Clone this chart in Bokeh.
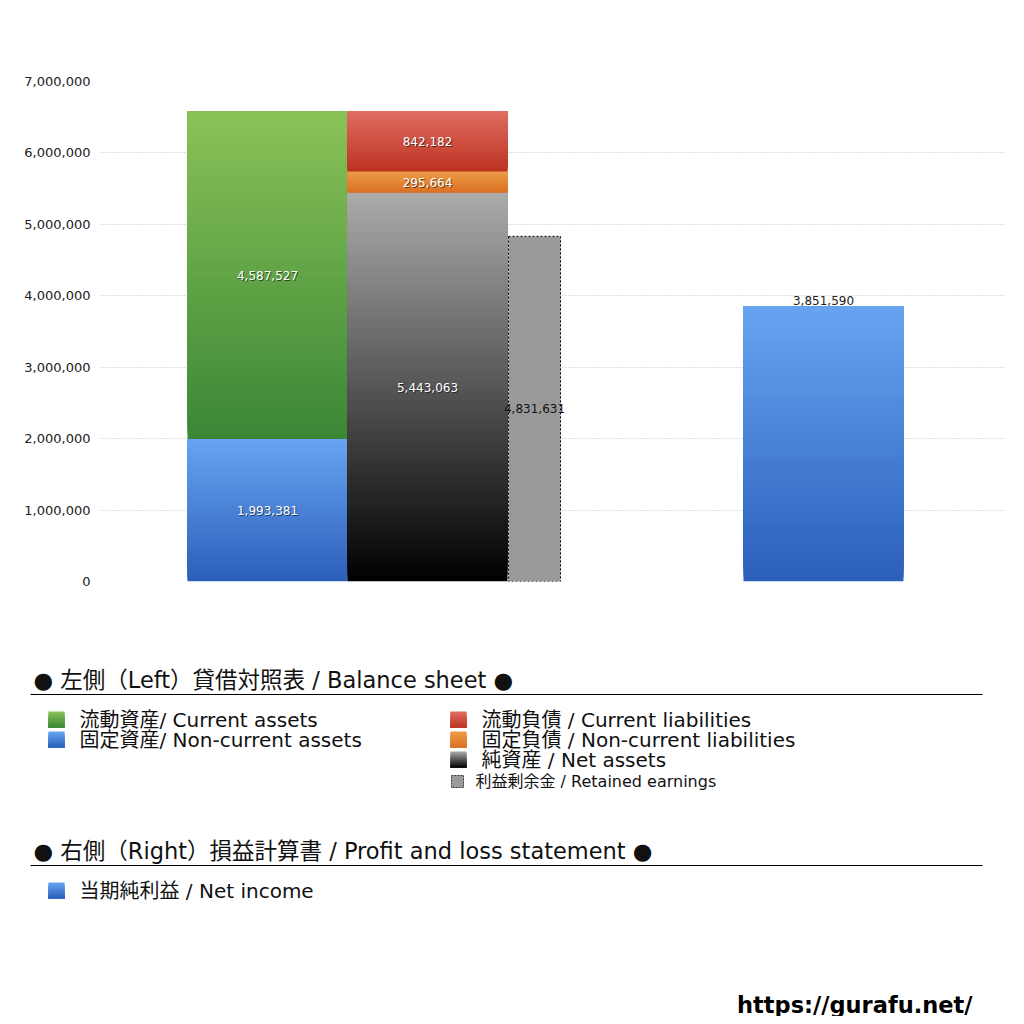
from bokeh.plotting import figure
from bokeh.models import Range1d, SingleIntervalTicker, NumeralTickFormatter
from bokeh.embed import file_html
from bokeh.resources import INLINE
from bokeh.core.properties import value

FONT = "DejaVu Sans, Noto Sans CJK JP"

# ---------------- data ----------------
asset_names = ["固定資産", "流動資産"]              # stacked bottom -> top
asset_en = ["Non-current assets", "Current assets"]
asset_values = [1993381, 4587527]

liab_names = ["純資産", "固定負債", "流動負債"]      # stacked bottom -> top
liab_en = ["Net assets", "Non-current liabilities", "Current liabilities"]
liab_values = [5443063, 295664, 842182]

retained_names = ["利益剰余金"]
retained_en = ["Retained earnings"]
retained_values = [4831631]

pl_names = ["当期純利益"]
pl_en = ["Net income"]
pl_values = [3851590]

y_max = 7000000
y_step = 1000000

# ---------------- styles ----------------
asset_colors = [("#67a4f1", "#2c5fba"), ("#8ac257", "#3a8736")]
liab_colors = [("#ababab", "#000000"), ("#ec9c49", "#db7024"), ("#df6d62", "#bd3321")]
retained_color = "#999999"
pl_colors = [("#67a4f1", "#2c5fbb")]


def hex2rgb(h):
    h = h.lstrip("#")
    return tuple(int(h[i:i + 2], 16) for i in (0, 2, 4))


def mix(c_bottom, c_top, t):
    a, b = hex2rgb(c_bottom), hex2rgb(c_top)
    return "#%02x%02x%02x" % tuple(round(a[k] + (b[k] - a[k]) * t) for k in range(3))


def gradient_quads(p, left, right, bottom, top, c_top, c_bottom, n=60):
    """vertical gradient: layered rectangles, later ones cover the upper part"""
    lefts, rights, bottoms, tops, colors = [], [], [], [], []
    for i in range(n):
        lefts.append(left)
        rights.append(right)
        bottoms.append(bottom + (top - bottom) * i / n)
        tops.append(top)
        colors.append(mix(c_bottom, c_top, (i + 0.5) / n))
    p.quad(left=lefts, right=rights, bottom=bottoms, top=tops,
           fill_color=colors, line_color=None)


# ---------------- chart ----------------
W = 1016
CH = 610                               # chart canvas height
FL, FT, FR, FB = 100, 81, 1005, 581    # frame edges on the page
p = figure(width=W, height=CH, output_backend="svg", toolbar_location=None,
           x_range=Range1d(0, FR - FL), y_range=Range1d(0, y_max),
           min_border_left=FL, min_border_right=W - FR, min_border_top=FT,
           min_border_bottom=CH - FB)
p.outline_line_color = None
p.xaxis.visible = False
p.xgrid.visible = False
p.ygrid.grid_line_color = "#c0c0c0"
p.ygrid.grid_line_dash = "1 2"
p.ygrid.grid_line_width = 1
yax = p.yaxis[0]
yax.ticker = SingleIntervalTicker(interval=y_step)
yax.formatter = NumeralTickFormatter(format="0,0")
yax.axis_line_color = None
yax.major_tick_line_color = None
yax.minor_tick_line_color = None
yax.major_label_text_font = FONT
yax.major_label_text_font_size = "13px"
yax.major_label_text_color = "#222222"
yax.major_label_standoff = 4

# layout (x positions in frame pixels)
ASSET_L, ASSET_R = 87, 247
LIAB_L, LIAB_R = 247, 407
RET_L, RET_R = 408, 460
PL_L, PL_R = 643, 803


def stacked(p, left, right, values, colors):
    base = 0
    xs, ys, labels = [], [], []
    for v, (ct, cb) in zip(values, colors):
        gradient_quads(p, left, right, base, base + v, ct, cb)
        xs.append((left + right) / 2)
        ys.append(base + v / 2)
        labels.append(f"{v:,}")
        base += v
    return xs, ys, labels


lab_x, lab_y, lab_t = [], [], []
for args in ((ASSET_L, ASSET_R, asset_values, asset_colors),
             (LIAB_L, LIAB_R, liab_values, liab_colors)):
    xs, ys, ts = stacked(p, *args)
    lab_x += xs
    lab_y += ys
    lab_t += ts

# white labels with a dark shadow
p.text(x=lab_x, y=lab_y, text=lab_t, text_color="#000000", text_alpha=0.55,
       x_offset=1, y_offset=1, text_align="center", text_baseline="middle",
       text_font=value(FONT), text_font_size="12px")
p.text(x=lab_x, y=lab_y, text=lab_t, text_color="#ffffff",
       text_align="center", text_baseline="middle",
       text_font=value(FONT), text_font_size="12px")

# retained earnings (dashed outline)
p.quad(left=[RET_L], right=[RET_R], bottom=[0], top=retained_values,
       fill_color=retained_color, line_color="#000000", line_dash="2 2",
       line_width=1)
p.text(x=[(RET_L + RET_R) / 2], y=[retained_values[0] / 2],
       text=[f"{retained_values[0]:,}"], text_color="#111111",
       text_align="center", text_baseline="middle",
       text_font=value(FONT), text_font_size="12px")

# net income
for v, (ct, cb) in zip(pl_values, pl_colors):
    gradient_quads(p, PL_L, PL_R, 0, v, ct, cb)
p.text(x=[(PL_L + PL_R) / 2], y=pl_values, text=[f"{pl_values[0]:,}"],
       text_color="#222222", text_align="center", text_baseline="bottom",
       y_offset=-1, text_font=value(FONT), text_font_size="12px")

# ---------------- legend panel (page-pixel coordinates) ----------------
LH = 1016 - CH
L = figure(width=W, height=LH, output_backend="svg", toolbar_location=None,
           x_range=Range1d(0, W), y_range=Range1d(1016, CH),
           min_border=0, min_border_left=0, min_border_right=0,
           min_border_top=0, min_border_bottom=0)
L.axis.visible = False
L.grid.visible = False
L.outline_line_color = None


def ltext(x, y, txt, size, align="left", bold=False, color="#111111"):
    L.text(x=[x], y=[y], text=[txt], text_color=color, text_align=align,
           text_baseline="middle", text_font=value(FONT),
           text_font_size=size,
           text_font_style="bold" if bold else "normal")


def swatch(x, y, ct, cb, size=16, n=12):
    # page y grows downward here: slice i starts lower and is drawn later
    lefts, rights, bottoms, tops, colors = [], [], [], [], []
    for i in range(n):
        lefts.append(x)
        rights.append(x + size)
        tops.append(y - size / 2 + size * i / n)
        bottoms.append(y + size / 2)
        colors.append(mix(cb, ct, 1 - (i + 0.5) / n))
    L.quad(left=lefts, right=rights, bottom=bottoms, top=tops,
           fill_color=colors, line_color=None)


def heading(y, txt):
    ltext(33, y, txt, "22.5px")
    L.segment(x0=[30], x1=[982], y0=[y + 15], y1=[y + 15],
              line_color="#000000", line_width=1)


def legend_item(x, y, txt, ct, cb):
    swatch(x, y, ct, cb)
    ltext(x + 31, y, txt, "20px")


heading(679, "● 左側（Left）貸借対照表 / Balance sheet ●")
legend_item(48, 719, f"{asset_names[1]}/ {asset_en[1]}", *asset_colors[1])
legend_item(48, 739, f"{asset_names[0]}/ {asset_en[0]}", *asset_colors[0])
legend_item(450, 719, f"{liab_names[2]} /  {liab_en[2]}", *liab_colors[2])
legend_item(450, 739, f"{liab_names[1]} / {liab_en[1]}", *liab_colors[1])
legend_item(450, 759, f"{liab_names[0]} / {liab_en[0]}", *liab_colors[0])
L.quad(left=[451], right=[463], top=[775], bottom=[787],
       fill_color=retained_color, line_color="#333333", line_dash="2 1",
       line_width=1)
ltext(475, 781, f"{retained_names[0]} / {retained_en[0]}", "16px")

heading(850, "● 右側（Right）損益計算書 / Profit and loss statement ●")
legend_item(48, 890, f"{pl_names[0]} / {pl_en[0]}", *pl_colors[0])

ltext(972, 1004, "https://gurafu.net/", "22.5px", align="right", bold=True,
      color="#000000")

open("out.html", "w").write(file_html([p, L], INLINE))
